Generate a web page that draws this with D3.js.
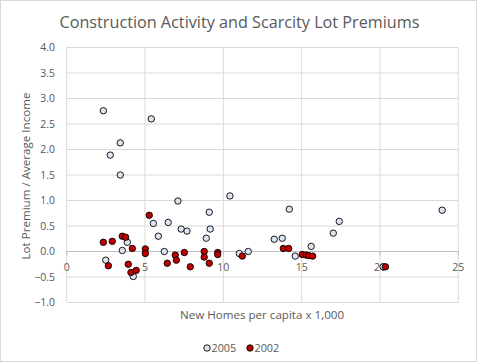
<!DOCTYPE html>
<html>
<head>
<meta charset="utf-8">
<script src="https://d3js.org/d3.v7.min.js"></script>
<style>
  body { margin: 0; background: #fff; }
  text { font-family: "Open Sans", "Liberation Sans", sans-serif; fill: #595959; }
</style>
</head>
<body>
<svg></svg>
<script>
// 2005 points: new homes per capita x 1,000 and lot premium / average income
var x2005 = [2.34, 5.40, 3.42, 2.78, 3.42, 7.10, 5.53, 6.48, 7.31, 7.68, 5.85, 3.87, 3.55, 6.23, 2.49, 4.25,
             10.42, 9.10, 9.16, 8.91, 11.02, 11.59, 13.25, 13.76, 14.21, 15.61, 14.59, 17.40, 17.02, 23.97, 20.2];
var y2005 = [2.76, 2.60, 2.13, 1.89, 1.50, 0.99, 0.55, 0.57, 0.44, 0.40, 0.30, 0.18, 0.02, 0.00, -0.17, -0.49,
             1.09, 0.77, 0.44, 0.26, -0.04, 0.00, 0.24, 0.26, 0.83, 0.10, -0.09, 0.59, 0.36, 0.81, -0.30];
// 2002 points
var x2002 = [5.27, 2.34, 2.91, 3.55, 3.76, 4.19, 5.02, 5.02, 6.93, 7.51, 7.00, 2.66, 3.93, 4.10, 4.44, 6.42, 7.89,
             8.78, 8.78, 9.10, 9.64, 9.64, 11.21, 13.83, 14.17, 15.04, 15.29, 15.45, 15.70, 20.35];
var y2002 = [0.71, 0.18, 0.20, 0.30, 0.28, 0.06, 0.05, -0.04, -0.07, -0.02, -0.17, -0.28, -0.25, -0.41, -0.37, -0.23, -0.30,
             0.00, -0.11, -0.23, -0.02, -0.06, -0.09, 0.06, 0.06, -0.06, -0.07, -0.08, -0.09, -0.30];

var xTicks = [0, 5, 10, 15, 20, 25];
var yTicks = [-1, -0.5, 0, 0.5, 1, 1.5, 2, 2.5, 3, 3.5, 4];

var width = 477, height = 362;
var margin = {left: 66.7, right: 18.7, top: 47.5, bottom: 59.5};

var svg = d3.select("svg").attr("width", width).attr("height", height);

svg.append("rect")
    .attr("x", 0.5).attr("y", 0.5)
    .attr("width", width - 1).attr("height", height - 1)
    .attr("fill", "#fff").attr("stroke", "#d9d9d9");

var x = d3.scaleLinear().domain([0, 25]).range([margin.left, width - margin.right]);
var y = d3.scaleLinear().domain([-1, 4]).range([height - margin.bottom, margin.top]);

// gridlines
svg.append("g").selectAll("line").data(yTicks).enter().append("line")
    .attr("x1", x(0)).attr("x2", x(25))
    .attr("y1", function(d){ return y(d); }).attr("y2", function(d){ return y(d); })
    .attr("stroke", function(d){ return d == 0 ? "#bfbfbf" : "#d9d9d9"; })
    .attr("stroke-width", 1);
svg.append("g").selectAll("line").data(xTicks).enter().append("line")
    .attr("x1", function(d){ return x(d); }).attr("x2", function(d){ return x(d); })
    .attr("y1", y(-1)).attr("y2", y(4))
    .attr("stroke", "#d9d9d9");

// small ticks on the zero axis
svg.append("g").selectAll("line").data(xTicks).enter().append("line")
    .attr("x1", function(d){ return x(d); }).attr("x2", function(d){ return x(d); })
    .attr("y1", y(0)).attr("y2", y(0) + 4)
    .attr("stroke", "#bfbfbf");

// y tick labels
svg.append("g").selectAll("text").data(yTicks).enter().append("text")
    .attr("x", 55).attr("y", function(d){ return y(d); })
    .attr("dy", "0.35em").attr("text-anchor", "end")
    .style("font-size", "10.5px")
    .text(function(d){ return d3.format(".1f")(d); });

// x tick labels sit just below the zero line
svg.append("g").selectAll("text").data(xTicks).enter().append("text")
    .attr("x", function(d){ return x(d); }).attr("y", y(0) + 16)
    .attr("dy", "0.35em").attr("text-anchor", "middle")
    .style("font-size", "10.5px")
    .text(function(d){ return d; });

// points
var pts2005 = x2005.map(function(d, i){ return {x: d, y: y2005[i]}; });
var pts2002 = x2002.map(function(d, i){ return {x: d, y: y2002[i]}; });

svg.append("g").selectAll("circle").data(pts2005).enter().append("circle")
    .attr("cx", function(d){ return x(d.x); }).attr("cy", function(d){ return y(d.y); })
    .attr("r", 3.2).attr("fill", "#dce6f2").attr("stroke", "#000").attr("stroke-width", 0.9);
svg.append("g").selectAll("circle").data(pts2002).enter().append("circle")
    .attr("cx", function(d){ return x(d.x); }).attr("cy", function(d){ return y(d.y); })
    .attr("r", 3.2).attr("fill", "#c00000").attr("stroke", "#000").attr("stroke-width", 0.9);

// title
svg.append("text")
    .attr("x", 239.5).attr("y", 28).attr("text-anchor", "middle")
    .style("font-size", "16.2px")
    .text("Construction Activity and Scarcity Lot Premiums");

// axis titles
svg.append("text")
    .attr("x", 262).attr("y", 319).attr("text-anchor", "middle")
    .style("font-size", "11.6px")
    .text("New Homes per capita x 1,000");
svg.append("text")
    .attr("transform", "translate(30,176) rotate(-90)")
    .attr("text-anchor", "middle")
    .style("font-size", "11.6px")
    .text("Lot Premium / Average Income");

// legend
var legend = [{label: "2005", fill: "#dce6f2", x: 207}, {label: "2002", fill: "#c00000", x: 250}];
var lg = svg.append("g").selectAll("g").data(legend).enter().append("g")
    .attr("transform", function(d){ return "translate(" + d.x + ",348)"; });
lg.append("circle").attr("r", 3.2)
    .attr("fill", function(d){ return d.fill; })
    .attr("stroke", "#000").attr("stroke-width", 0.9);
lg.append("text").attr("x", 4.5).attr("dy", "0.35em")
    .style("font-size", "10.8px")
    .text(function(d){ return d.label; });
</script>
</body>
</html>
